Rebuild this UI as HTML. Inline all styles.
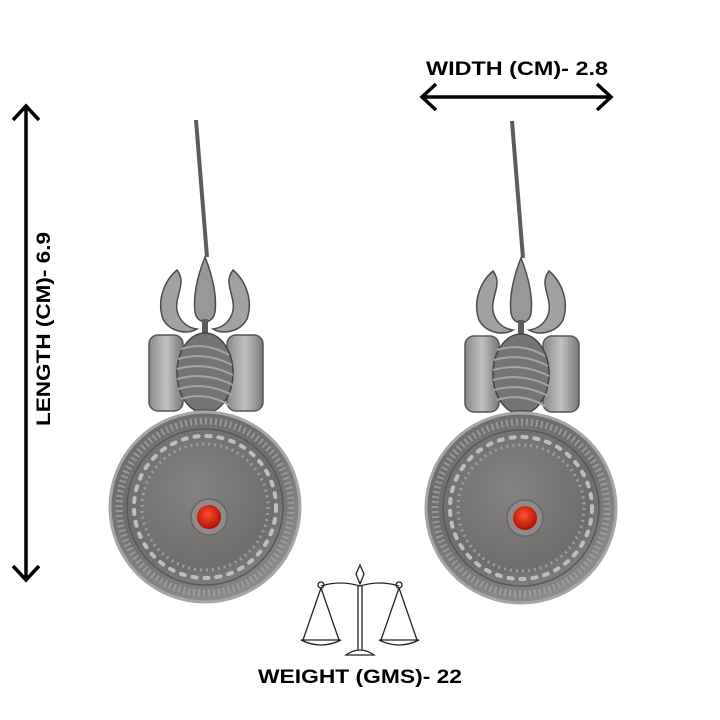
<!DOCTYPE html>
<html><head><meta charset="utf-8"><style>
html,body{margin:0;padding:0;background:#fff}
svg{display:block}
text{font-family:"Liberation Sans",sans-serif;font-weight:bold;fill:#000}
</style></head><body>
<svg width="720" height="720" viewBox="0 0 720 720">
<defs>
<radialGradient id="disc" cx="45%" cy="40%" r="60%">
<stop offset="0" stop-color="#858381"/><stop offset="0.7" stop-color="#6f6d6c"/><stop offset="1" stop-color="#8f8d8c"/>
</radialGradient>
<linearGradient id="drum" x1="0" x2="1">
<stop offset="0" stop-color="#8a8887"/><stop offset="0.5" stop-color="#c4c2c0"/><stop offset="1" stop-color="#7a7877"/>
</linearGradient>
<radialGradient id="stone" cx="45%" cy="40%" r="60%">
<stop offset="0" stop-color="#ff5030"/><stop offset="1" stop-color="#b01000"/>
</radialGradient>
<g id="ear">
<path d="M-9,-387 L2,-250" stroke="#5e5c5b" stroke-width="4" fill="none"/>
<path d="M0,-250 C-8,-230 -12,-210 -10,-195 C-8,-182 8,-182 10,-195 C12,-210 8,-230 0,-250 Z" fill="#9a9896" stroke="#4e4c4b" stroke-width="1.5"/>
<rect x="-3" y="-188" width="6" height="20" fill="#5e5c5b"/>
<path d="M-28,-237 C-42,-225 -48,-205 -42,-188 C-35,-175 -18,-172 -8,-178 C-22,-180 -30,-192 -28,-205 C-26,-218 -20,-226 -28,-237 Z" fill="#a3a19f" stroke="#4e4c4b" stroke-width="1.5"/>
<path d="M28,-237 C42,-225 48,-205 42,-188 C35,-175 18,-172 8,-178 C22,-180 30,-192 28,-205 C26,-218 20,-226 28,-237 Z" fill="#a3a19f" stroke="#4e4c4b" stroke-width="1.5"/>
<rect x="-56" y="-172" width="34" height="76" rx="9" fill="url(#drum)" stroke="#555" stroke-width="1.5"/>
<rect x="22" y="-172" width="36" height="76" rx="9" fill="url(#drum)" stroke="#555" stroke-width="1.5"/>
<ellipse cx="0" cy="-134" rx="28" ry="40" fill="#767473" stroke="#444" stroke-width="1.5"/>
<g stroke="#a8a6a4" stroke-width="2" fill="none">
<path d="M-24,-158 Q0,-166 24,-152"/><path d="M-27,-148 Q0,-156 27,-142"/><path d="M-28,-138 Q0,-146 28,-132"/><path d="M-28,-128 Q0,-136 28,-122"/><path d="M-27,-118 Q0,-126 27,-112"/><path d="M-24,-108 Q0,-116 24,-102"/>
</g>
<rect x="-8" y="-98" width="16" height="10" fill="#5e5c5b"/>
<circle r="95" fill="url(#disc)" stroke="#a8a6a4" stroke-width="3"/>
<circle r="86" fill="none" stroke="#a4a2a0" stroke-width="7" stroke-dasharray="2 3" opacity="0.8"/>
<circle r="78" fill="none" stroke="#5a5857" stroke-width="1.5"/>
<circle r="71" fill="none" stroke="#c0bebc" stroke-width="4" stroke-dasharray="4 8" stroke-linecap="round"/>
<circle r="63" fill="none" stroke="#a09e9c" stroke-width="3" stroke-dasharray="2 4"/>
<circle cx="4" cy="10" r="18" fill="#908a88" stroke="#666" stroke-width="1.5"/>
<circle cx="4" cy="10" r="12" fill="url(#stone)"/>
</g>
</defs>
<use href="#ear" transform="translate(205,507)"/>
<use href="#ear" transform="translate(521,508)"/>
<text x="426" y="75" font-size="19" textLength="182" lengthAdjust="spacingAndGlyphs">WIDTH (CM)- 2.8</text>
<path d="M422,97 L611,97 M436,84 L422,97 L436,110 M597,84 L611,97 L597,110" stroke="#000" stroke-width="3.5" fill="none"/>
<path d="M26,106 L26,580 M13,120 L26,106 L39,120 M13,566 L26,580 L39,566" stroke="#000" stroke-width="3.5" fill="none"/>
<text transform="translate(50,426) rotate(-90)" font-size="19" textLength="194" lengthAdjust="spacingAndGlyphs">LENGTH (CM)- 6.9</text>
<g stroke="#222" stroke-width="1.3" fill="none">
<path d="M321,586 Q340,580 360,586 Q380,580 399,586"/>
<circle cx="321" cy="585" r="3"/><circle cx="399" cy="585" r="3"/>
<path d="M360,565 L356,574 L360,584 L364,574 Z"/>
<path d="M358,586 L358,650 M362,586 L362,650"/>
<path d="M346,655 Q360,645 374,655 Z"/>
<path d="M321,588 L303,640 M321,588 L339,640 M399,588 L381,640 M399,588 L417,640"/>
<path d="M301,640 L341,640 Q321,650 301,640 Z"/>
<path d="M379,640 L419,640 Q399,650 379,640 Z"/>
</g>
<text x="258" y="683" font-size="19" textLength="204" lengthAdjust="spacingAndGlyphs">WEIGHT (GMS)- 22</text>
</svg>
</body></html>
